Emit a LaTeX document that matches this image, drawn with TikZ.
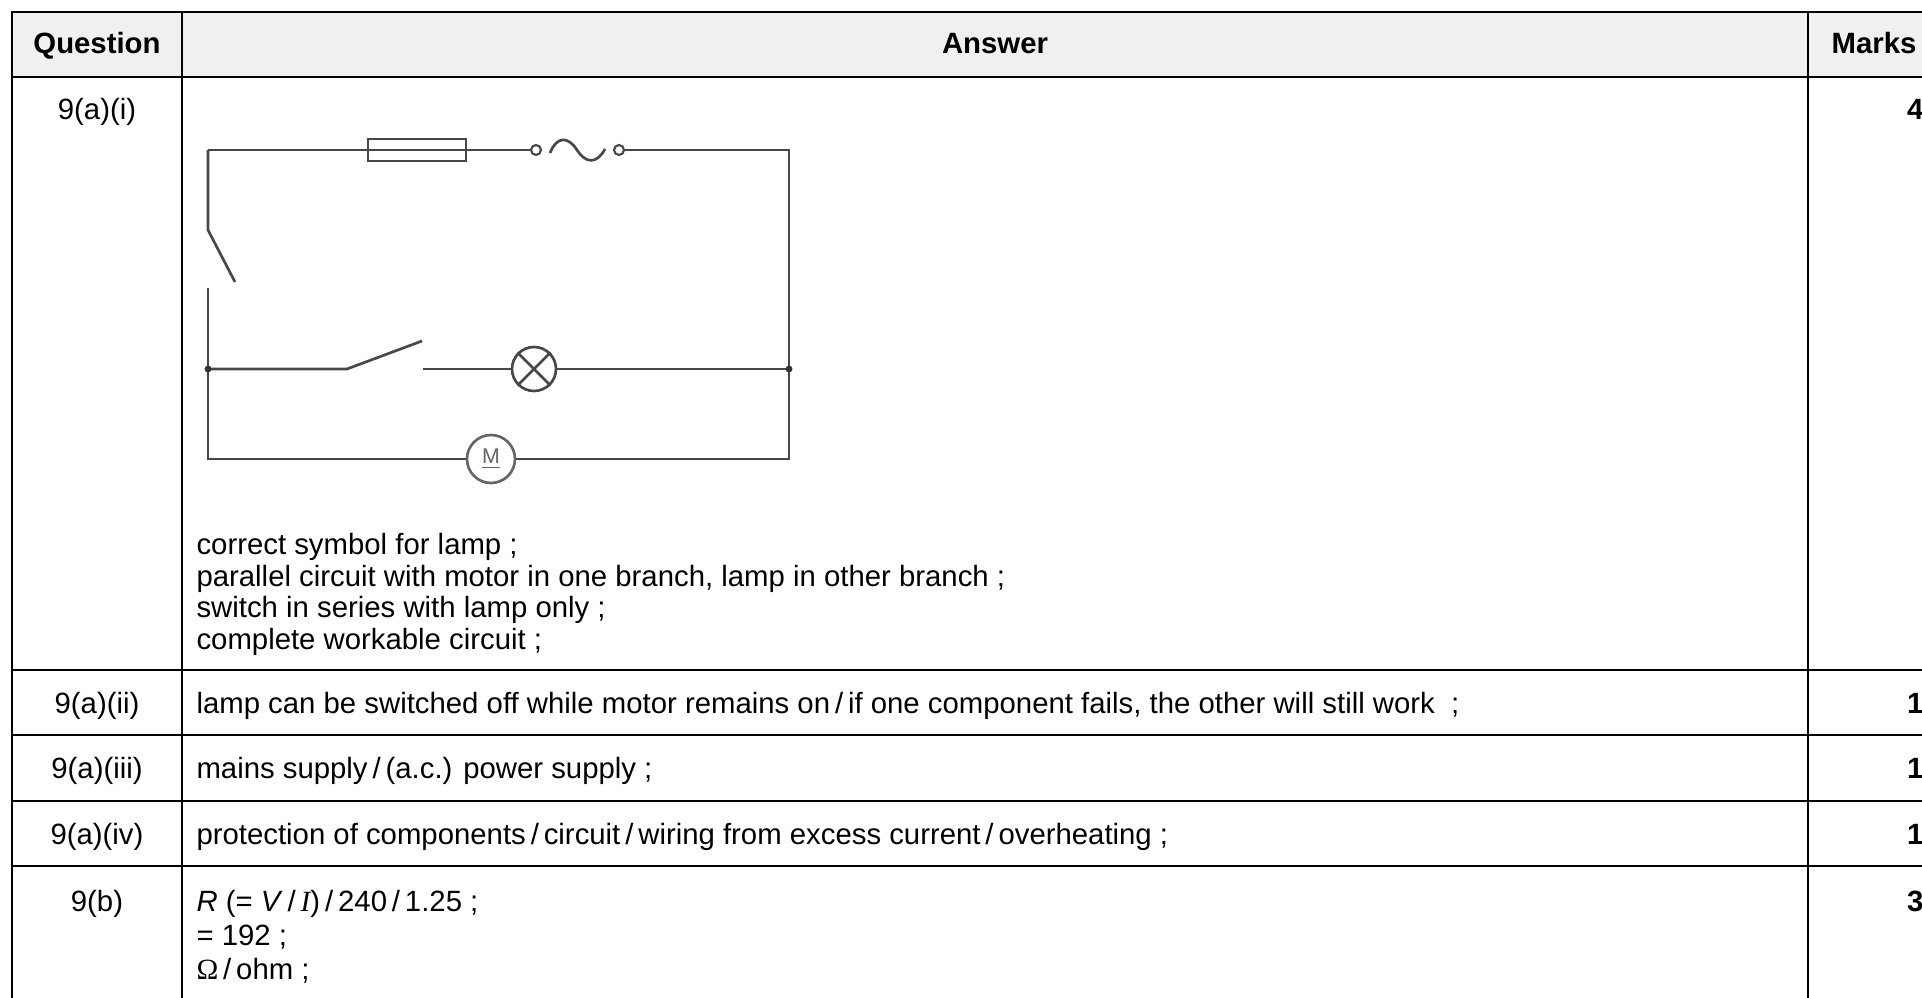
\documentclass[tikz,border=0pt]{standalone}
\usepackage{fontspec}
\setmainfont{Liberation Sans}
\newfontfamily\seriffont{Liberation Serif}
\tikzset{
	txt/.style={inner sep=0pt, font=\fontsize{11}{12.4}\selectfont},
	cell/.style={txt, anchor=base west},
	qcell/.style={txt, anchor=base},
	head/.style={qcell, font=\fontsize{11}{12.4}\selectfont\bfseries},
	markcell/.style={txt, anchor=base east, font=\fontsize{11}{12.4}\selectfont\bfseries},
	rule/.style={line width=1.1pt},
	wire/.style={black!72, line width=1pt},
	fuse/.style={draw, black!72, line width=1pt, minimum width=36.75pt, minimum height=8.25pt, inner sep=0pt},
	term/.style={circle, draw, black!72, line width=0.8pt, minimum size=3.75pt, inner sep=0pt},
	lamp/.style={circle, draw, black!72, line width=1pt, minimum size=16.5pt, inner sep=0pt},
	motor/.style={circle, draw, black!60, line width=1pt, minimum size=18pt, inner sep=0pt, font=\fontsize{8}{8}\selectfont},
}
\begin{document}
\begin{tikzpicture}[x=0.375pt, y=-0.375pt]
	\useasboundingbox (0,0) rectangle (1922,998);
	\clip (0,0) rectangle (1922,998);
	\fill[black!6] (12,12) rectangle (1950,77);
	\draw[line width=0.75pt] (12,1010) -- (12,12) -- (1950,12);
	\draw[line width=0.75pt] (182,12) -- (182,1010);
	\draw[line width=0.75pt] (1808,12) -- (1808,1010);
	\foreach \y in {77,670,735,801,866}
		\draw[rule] (12,\y) -- (1950,\y);

	\node[head] (qhead) at (97,54) {Question};
	\node[head] (ahead) at (995,54) {Answer};
	\node[head] (mhead) at (1874,54) {Marks};

	\node[qcell] (q1) at (97,120) {9(a)(i)};
	\node[qcell] (q2) at (97,713) {9(a)(ii)};
	\node[qcell] (q3) at (97,778) {9(a)(iii)};
	\node[qcell] (q4) at (97,844) {9(a)(iv)};
	\node[qcell] (q5) at (97,911) {9(b)};

	\node[markcell] (m1) at (1924,120) {4};
	\node[markcell] (m2) at (1924,713) {1};
	\node[markcell] (m3) at (1924,778) {1};
	\node[markcell] (m4) at (1924,844) {1};
	\node[markcell] (m5) at (1924,911) {3};

	\coordinate (tl) at (208,150);
	\coordinate (tr) at (789,150);
	\coordinate (jl) at (208,369);
	\coordinate (jr) at (789,369);
	\coordinate (bl) at (208,459);
	\coordinate (br) at (789,459);
	\node[fuse] (fuse) at (417,150) {};
	\node[term] (t1) at (536,150) {};
	\node[term] (t2) at (619,150) {};
	\node[lamp] (lamp) at (534,369) {};
	\node[motor] (motor) at (491,459) {\underline{M}};

	\draw[wire] (tl) -- (t1);
	\draw[wire] (550,153) .. controls (557,136) and (568,136) .. (577,150) .. controls (586,164) and (597,164) .. (605,149);
	\draw[wire] (t2) -- (tr) -- (br) -- (motor) -- (bl) -- (208,288);
	\draw[wire] (tl) -- (208,230) -- ++(27,52);
	\draw[wire] (jl) -- (347,369) -- ++(75,-28);
	\draw[wire] (423,369) -- (lamp) -- (jr);
	\draw[wire] (lamp.45) -- (lamp.225) (lamp.135) -- (lamp.315);
	\fill[black!80] (jl) circle (1.3pt) (jr) circle (1.3pt);

	\foreach \t [count=\i] in {correct symbol for lamp ;, {parallel circuit with motor in one branch, lamp in other branch ;}, switch in series with lamp only ;, complete workable circuit ;}
		\node[cell] (crit\i) at (196,522+32*\i) {\t};

	\node[cell] (a2) at (196,713) {lamp can be switched off while motor remains on\,/\,if one component fails, the other will still work\ \ ;};
	\node[cell] (a3) at (196,778) {mains supply\,/\,(a.c.) power supply ;};
	\node[cell] (a4) at (196,844) {protection of components\,/\,circuit\,/\,wiring from excess current\,/\,overheating ;};
	\node[cell] (b1) at (196,911) {\textit{R} (= \textit{V}\,/\,{\seriffont\itshape I})\,/\,240\,/\,1.25 ;};
	\node[cell] (b2) at (196,945) {= 192 ;};
	\node[cell] (b3) at (196,979) {{\seriffont Ω}\,/\,ohm ;};
\end{tikzpicture}
\end{document}
